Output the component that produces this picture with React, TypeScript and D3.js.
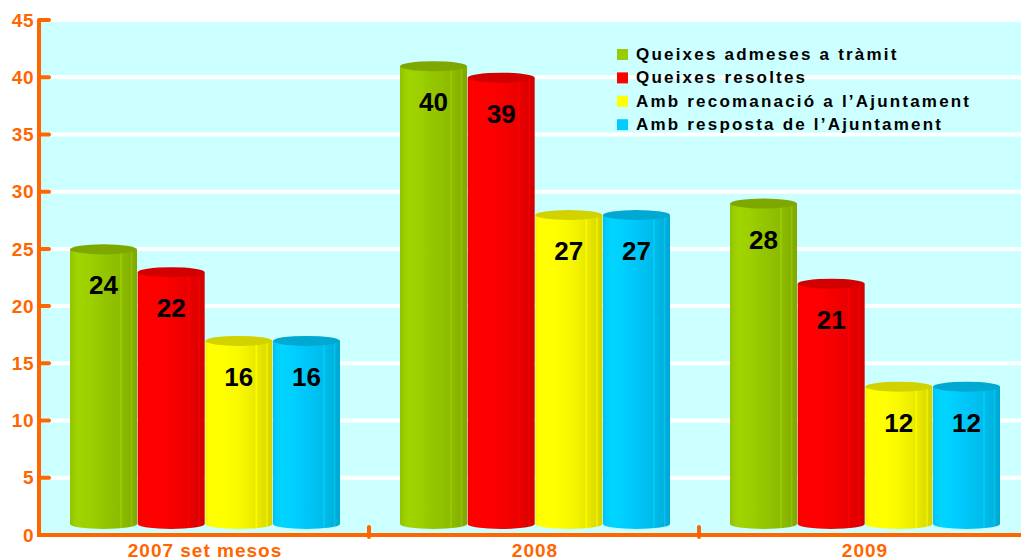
import React from "react";
import * as d3 from "d3";

const categories = ["2007 set mesos", "2008", "2009"];
const seriesNames = [
  "Queixes admeses a tràmit",
  "Queixes resoltes",
  "Amb recomanació a l’Ajuntament",
  "Amb resposta de l’Ajuntament",
];
const seriesColors = ["#99cc00", "#ff0000", "#ffff00", "#00ccff"];
const admeses = [24, 40, 28];
const resoltes = [22, 39, 21];
const recomanacio = [16, 27, 12];
const resposta = [16, 27, 12];
const seriesValues = [admeses, resoltes, recomanacio, resposta];
const yTicks = [0, 5, 10, 15, 20, 25, 30, 35, 40, 45];

const W = 1021;
const H = 560;
const ORANGE = "#ff6600";
const DEPTH = 11;

export default function App() {
  const y = d3.scaleLinear().domain([0, 45]).range([535, 20]);
  const x0 = d3.scaleBand<string>().domain(categories).range([40, 1030]);
  const x1 = d3
    .scaleBand<number>()
    .domain(d3.range(seriesNames.length))
    .range([30, 300])
    .paddingInner(0.01);
  const bw = x1.bandwidth();
  const ry = 5;

  const gradStops = (c: string) => {
    const base = d3.color(c)!;
    const s = (k: number) => (k >= 0 ? base.brighter(k) : base.darker(-k)).formatHex();
    return [
      [0, s(-0.15)],
      [0.05, s(0)],
      [0.12, s(0.12)],
      [0.3, s(0.05)],
      [0.45, s(-0.05)],
      [0.62, s(-0.15)],
      [0.74, s(-0.25)],
      [0.76, s(0.1)],
      [0.78, s(-0.25)],
      [0.9, s(-0.4)],
      [0.92, s(-0.1)],
      [0.94, s(-0.45)],
      [1, s(-0.55)],
    ] as [number, string][];
  };

  return (
    <svg
      width={W}
      height={H}
      style={{ position: "absolute", left: 0, top: 0, fontFamily: "Liberation Sans, Arial, sans-serif" }}
    >
      <defs>
        {seriesColors.map((c, i) => (
          <linearGradient key={i} id={`g${i}`} x1="0" x2="1" y1="0" y2="0">
            {gradStops(c).map(([o, col], j) => (
              <stop key={j} offset={o} stopColor={col} />
            ))}
          </linearGradient>
        ))}
      </defs>
      <rect x={0} y={0} width={W} height={H} fill="#ffffff" />
      <rect x={41} y={y(45) + 2} width={W - 41} height={y(0) - y(45) - 2} fill="#ccffff" />
      {yTicks
        .filter((t) => t > 0 && t < 45)
        .map((t) => (
          <line key={t} x1={41} x2={W} y1={y(t)} y2={y(t)} stroke="#ffffff" strokeWidth={4} />
        ))}

      {categories.map((cat, ci) => (
        <g key={cat} transform={`translate(${x0(cat)},0)`}>
          {seriesValues.map((vals, si) => {
            const v = vals[ci];
            const bx = x1(si)!;
            const top = y(v) - DEPTH;
            const bot = y(0) - DEPTH;
            const cx = bx + bw / 2;
            const topCol = d3.color(seriesColors[si])!.darker(0.55).formatHex();
            return (
              <g key={si}>
                <path
                  d={`M${bx},${top} L${bx},${bot} A${bw / 2},${ry} 0 0 0 ${bx + bw},${bot} L${bx + bw},${top} Z`}
                  fill={`url(#g${si})`}
                />
                <ellipse cx={cx} cy={top} rx={bw / 2} ry={ry} fill={topCol} />
                <text
                  x={cx}
                  y={top + 45}
                  textAnchor="middle"
                  fontWeight="bold"
                  fontSize={26}
                  fill="#000000"
                >
                  {v}
                </text>
              </g>
            );
          })}
        </g>
      ))}

      {/* axes */}
      <line x1={39} x2={39} y1={y(45)} y2={y(0) + 2} stroke={ORANGE} strokeWidth={4} />
      <line x1={39} x2={W} y1={y(0)} y2={y(0)} stroke={ORANGE} strokeWidth={4} />
      {yTicks.map((t) => (
        <g key={t}>
          <line x1={39} x2={49} y1={y(t)} y2={y(t)} stroke={ORANGE} strokeWidth={4} strokeLinecap="round" />
          <text
            x={34}
            y={y(t)}
            dy="0.35em"
            textAnchor="end"
            fontWeight="bold"
            fontSize={19}
            letterSpacing={0.5}
            fill={ORANGE}
          >
            {t}
          </text>
        </g>
      ))}
      {categories.slice(1).map((cat) => (
        <line
          key={cat}
          x1={x0(cat)! - 1}
          x2={x0(cat)! - 1}
          y1={y(0) - 8}
          y2={y(0) + 2}
          stroke={ORANGE}
          strokeWidth={4}
          strokeLinecap="round"
        />
      ))}
      {categories.map((cat) => (
        <text
          key={cat}
          x={x0(cat)! + x0.bandwidth() / 2}
          y={550}
          dy="0.35em"
          textAnchor="middle"
          fontWeight="bold"
          fontSize={19}
          letterSpacing={1}
          fill={ORANGE}
        >
          {cat}
        </text>
      ))}

      {/* legend */}
      {seriesNames.map((name, i) => (
        <g key={name} transform={`translate(617,${54 + i * 23.4})`}>
          <rect x={0} y={-5} width={11} height={11} fill={seriesColors[i]} />
          <text x={19} y={0} dy="0.35em" fontWeight="bold" fontSize={17} letterSpacing={2.2} fill="#000000">
            {name}
          </text>
        </g>
      ))}
    </svg>
  );
}
